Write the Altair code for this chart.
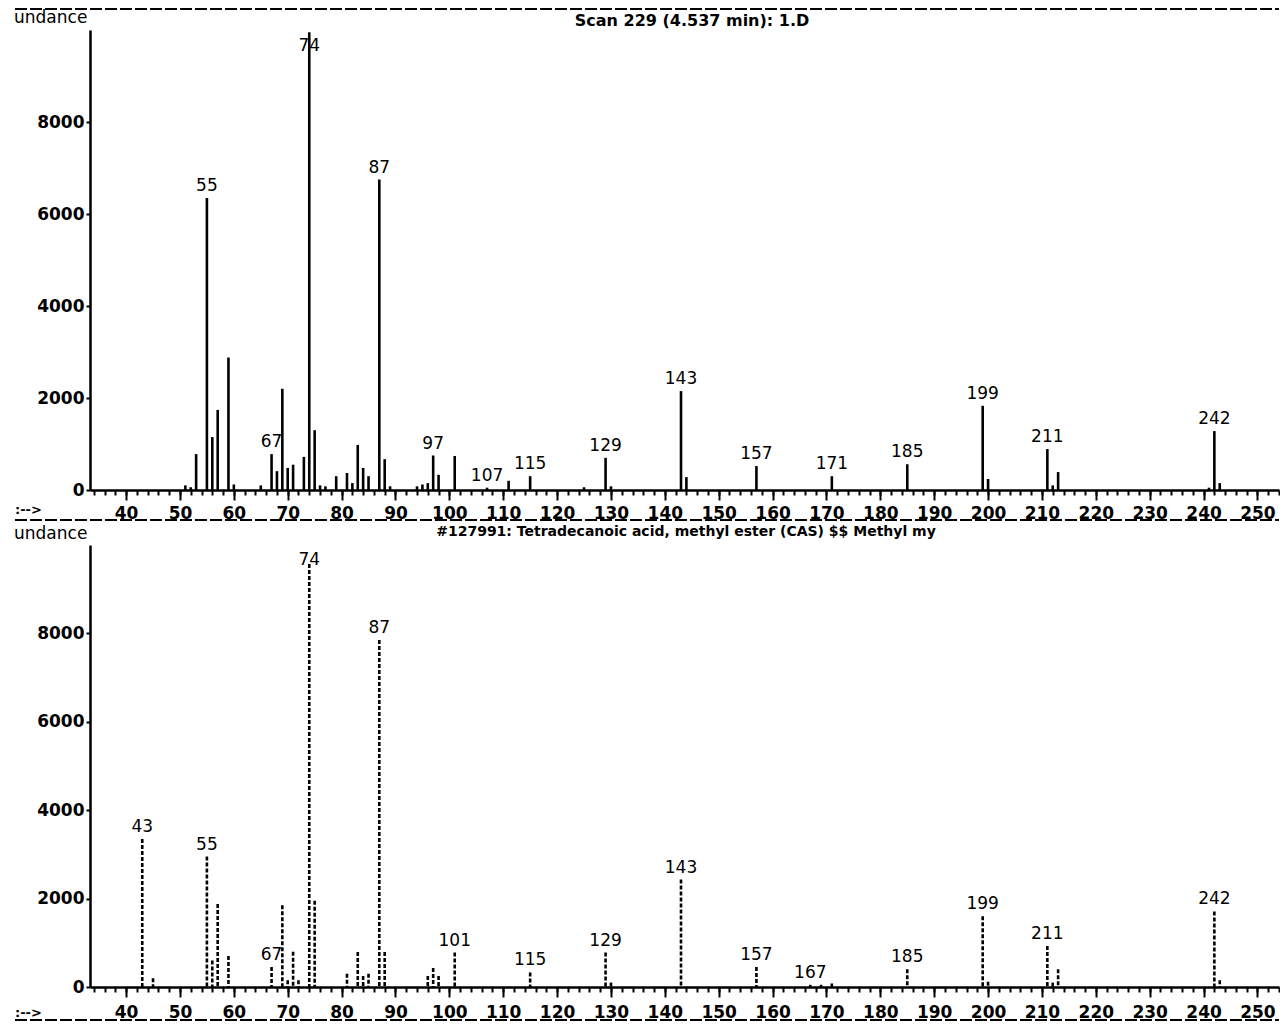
import altair as alt
import pandas as pd

# ---- data ----
scan_mz = [51, 52, 53, 55, 56, 57, 59, 60, 65, 67, 68, 69, 70, 71, 73, 74, 75, 76, 77, 79,
           81, 82, 83, 84, 85, 87, 88, 89, 94, 95, 96, 97, 98, 101, 107, 111, 115, 125,
           129, 130, 143, 144, 157, 171, 185, 199, 200, 211, 212, 213, 241, 242, 243]
scan_ab = [100, 60, 780, 6350, 1150, 1740, 2880, 120, 100, 780, 410, 2200, 480, 550, 720, 9950, 1300, 100, 80, 300,
           370, 150, 980, 480, 300, 6750, 670, 80, 80, 120, 150, 750, 330, 740, 50, 200, 300, 60,
           700, 80, 2150, 280, 520, 300, 560, 1830, 240, 890, 100, 390, 50, 1280, 150]
scan_labels = [55, 67, 74, 87, 97, 107, 115, 129, 143, 157, 171, 185, 199, 211, 242]

lib_mz = [43, 45, 55, 56, 57, 59, 67, 69, 70, 71, 72, 74, 75, 81, 83, 84, 85, 87, 88, 96,
          97, 98, 101, 115, 129, 130, 143, 157, 167, 169, 171, 185, 199, 200, 211, 212, 213, 242, 243]
lib_ab = [3350, 200, 2950, 600, 1880, 700, 450, 1850, 150, 800, 150, 9570, 1950, 300, 790, 250, 300, 7850, 790, 250,
          430, 250, 780, 330, 780, 100, 2430, 450, 50, 50, 80, 400, 1600, 120, 930, 100, 400, 1710, 150]
lib_labels = [43, 55, 67, 74, 87, 101, 115, 129, 143, 157, 167, 185, 199, 211, 242]

x_major = [40, 50, 60, 70, 80, 90, 100, 110, 120, 130, 140, 150, 160, 170, 180, 190, 200, 210, 220, 230, 240, 250]
x_minor = list(range(34, 255, 2))
y_ticks = [0, 2000, 4000, 6000, 8000]

scan_title = "Scan 229 (4.537 min): 1.D"
lib_title = "#127991: Tetradecanoic acid, methyl ester (CAS) $$ Methyl my"
y_label = "undance"
x_label = ":-->"

X_DOMAIN = [33.3, 254.0]
W = 1189
FONT = "DejaVu Sans"


def one(text):
    return pd.DataFrame({"t": [text]})


def panel(mz, ab, labels, title, title_size, title_x, title_y, ylab_y, h, dash, lab_pad, xl_y, line_y, top_rule):
    df = pd.DataFrame({"mz": mz, "ab": ab})
    df["label"] = [str(m) if m in labels else "" for m in mz]
    df["ly"] = [min(v, 9400) for v in ab]
    xs = alt.Scale(domain=X_DOMAIN, nice=False, zero=False)
    ys = alt.Scale(domain=[0, 10000], nice=False)
    y_axis = alt.Axis(
        values=y_ticks, format="d", tickSize=4, tickWidth=2, tickColor="black", domainColor="black",
        domainWidth=2.5, labelFont=FONT, labelFontWeight="bold", labelFontSize=17,
        labelColor="black", labelPadding=2, grid=False, title=None)
    base = alt.Chart(df)

    mk = dict(color="black", strokeWidth=2.6)
    if dash:
        mk["strokeDash"] = [4, 2]
    sticks = base.mark_rule(**mk).encode(
        x=alt.X("mz:Q", scale=xs, axis=alt.Axis(
            values=x_major, orient="bottom", tickSize=10, tickWidth=2, tickColor="black",
            domainColor="black", domainWidth=2.5, labelFont=FONT, labelFontWeight="bold",
            labelFontSize=17, labelColor="black", labelPadding=lab_pad, labelFlush=False,
            grid=False, title=None)),
        y=alt.Y("ab:Q", scale=ys, axis=y_axis),
        y2=alt.datum(0),
    )
    minor = base.mark_point(opacity=0).encode(
        x=alt.X("mz:Q", scale=xs, axis=alt.Axis(
            values=x_minor, orient="bottom", tickSize=5, tickWidth=2, tickColor="black",
            domain=False, labels=False, grid=False, title=None)),
        y=alt.Y("ab:Q", scale=ys, axis=y_axis),
    )
    texts = base.transform_filter("datum.label != ''").mark_text(
        dy=-12, font=FONT, fontSize=17, baseline="middle", color="black").encode(
        x=alt.X("mz:Q", scale=xs, axis=None),
        y=alt.Y("ly:Q", scale=ys, axis=y_axis),
        text="label:N",
    )
    ttl = alt.Chart(one(title)).mark_text(font=FONT, fontWeight="bold", fontSize=title_size,
                                          align="center", baseline="middle", color="black").encode(
        x=alt.value(title_x), y=alt.value(title_y), text="t:N")
    ylab = alt.Chart(one(y_label)).mark_text(font=FONT, fontSize=17, align="left",
                                             baseline="middle", color="black").encode(
        x=alt.value(-76), y=alt.value(ylab_y), text="t:N")
    xlab = alt.Chart(one(x_label)).mark_text(font=FONT, fontWeight="bold", fontSize=13, align="left",
                                             baseline="middle", color="black").encode(
        x=alt.value(-75), y=alt.value(xl_y), text="t:N")
    sep = alt.Chart(one("")).mark_rule(color="black", strokeWidth=2, strokeDash=[12, 3]).encode(
        x=alt.value(-75), x2=alt.value(W), y=alt.value(line_y))
    layers = [sticks, minor, texts, ttl, ylab, xlab, sep]
    if top_rule:
        layers.append(alt.Chart(one("")).mark_rule(color="black", strokeWidth=2, strokeDash=[12, 3]).encode(
            x=alt.value(-75), x2=alt.value(W), y=alt.value(-21)))
    return alt.layer(*layers).resolve_axis(x="independent").properties(width=W, height=h)


top = panel(scan_mz, scan_ab, scan_labels, scan_title, 16, 602, -9, -12, 460, False, 5, 480, 490, True)
bottom = panel(lib_mz, lib_ab, lib_labels, lib_title, 14, 596, -13, -11, 442, True, 7, 468, 475, False)

chart = alt.vconcat(top, bottom, spacing=4).properties(
    padding={"left": 6, "top": 0, "right": 0, "bottom": 0}
).configure(background="white").configure_view(stroke=None)

chart.save("out.html", embed_options={"renderer": "svg", "actions": False})
